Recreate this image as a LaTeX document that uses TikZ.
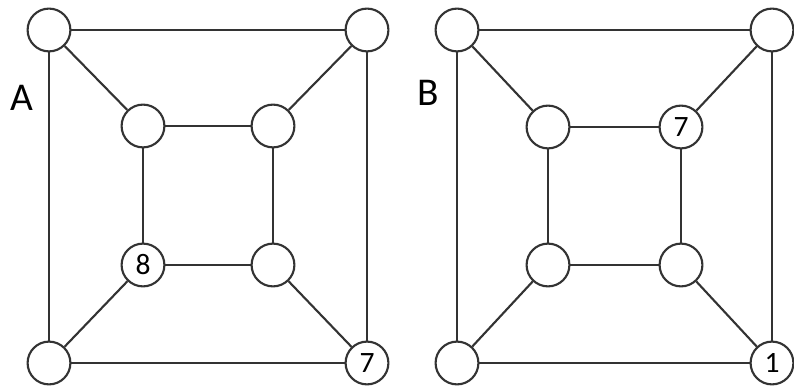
\documentclass[tikz,border=0pt]{standalone}
\usepackage{fontspec}
\setmainfont{Carlito}
\usetikzlibrary{positioning}

\begin{document}
\begin{tikzpicture}[x=0.025cm,y=-0.025cm,
  vtx/.style={circle,draw=black!80,line width=1.5pt,fill=white,minimum size=1.07cm,inner sep=0pt,font=\fontsize{21}{21}\selectfont},
  cubeedge/.style={draw=black!80,line width=1.5pt},
  lbl/.style={font=\fontsize{28}{28}\selectfont}]
  \useasboundingbox (0,0) rectangle (794,392);
  % graph A
  \begin{scope}
    \node[vtx] (aOTL) at (49,30) {};
    \node[vtx] (aOTR) at (367,30) {};
    \node[vtx] (aOBL) at (49,363) {};
    \node[vtx] (aOBR) at (367,363) {7};
    \node[vtx] (aITL) at (143,126) {};
    \node[vtx] (aITR) at (273,126) {};
    \node[vtx] (aIBL) at (143,265) {8};
    \node[vtx] (aIBR) at (273,265) {};
    \node[lbl] (labA) at (22,98) {A};
    \foreach \u/\v in {OTL/OTR,OTR/OBR,OBR/OBL,OBL/OTL,ITL/ITR,ITR/IBR,IBR/IBL,IBL/ITL,OTL/ITL,OTR/ITR,OBL/IBL,OBR/IBR} {
      \draw[cubeedge] (a\u) -- (a\v);
    }
  \end{scope}
  % graph B
  \begin{scope}
    \node[vtx] (bOTL) at (457,30) {};
    \node[vtx] (bOTR) at (772,30) {};
    \node[vtx] (bOBL) at (457,363) {};
    \node[vtx] (bOBR) at (772,363) {1};
    \node[vtx] (bITL) at (548,127) {};
    \node[vtx] (bITR) at (681,127) {7};
    \node[vtx] (bIBL) at (548,265) {};
    \node[vtx] (bIBR) at (681,265) {};
    \node[lbl] (labB) at (428,93) {B};
    \foreach \u/\v in {OTL/OTR,OTR/OBR,OBR/OBL,OBL/OTL,ITL/ITR,ITR/IBR,IBR/IBL,IBL/ITL,OTL/ITL,OTR/ITR,OBL/IBL,OBR/IBR} {
      \draw[cubeedge] (b\u) -- (b\v);
    }
  \end{scope}
\end{tikzpicture}
\end{document}
